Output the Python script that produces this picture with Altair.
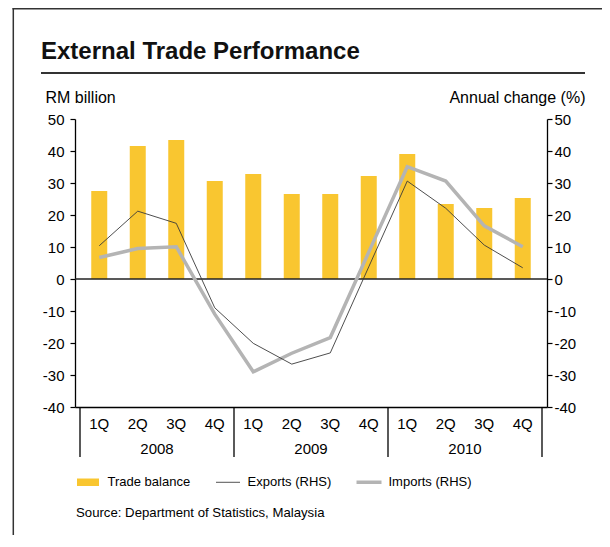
import altair as alt
import pandas as pd

TITLE = "External Trade Performance"
SOURCE = "Source: Department of Statistics, Malaysia"
LEFT_TITLE = "RM billion"
RIGHT_TITLE = "Annual change (%)"

YEARS = ["2008", "2009", "2010"]
QUARTERS = ["1Q", "2Q", "3Q", "4Q"]
SERIES = ["Trade balance", "Exports (RHS)", "Imports (RHS)"]

TRADE_BALANCE = [27.5, 41.6, 43.4, 30.6, 32.8, 26.6, 26.6, 32.2, 39.1, 23.4, 22.2, 25.3]
EXPORTS = [10.4, 21.2, 17.4, -9.0, -20.1, -26.6, -23.1, 3.8, 30.6, 22.1, 10.6, 3.5]
IMPORTS = [6.7, 9.5, 10.1, -11.0, -29.0, -23.2, -18.3, 8.4, 35.1, 30.6, 16.6, 10.1]

Y_TICKS = list(range(-40, 51, 10))

FONT = "Liberation Sans"
BAR_COLOR = "#F9C630"
EXP_COLOR = "#3a3a3a"
IMP_COLOR = "#b4b4b4"
W, H = 472, 288
TICK_FS = 15
CAT_FS = 15
AXT_FS = 16

n = len(TRADE_BALANCE)
df = pd.DataFrame({
    "idx": list(range(n)),
    "quarter": [QUARTERS[i % 4] for i in range(n)],
    "trade": TRADE_BALANCE,
    "exports": EXPORTS,
    "imports": IMPORTS,
})
sep_df = pd.DataFrame({"pos": [i * 4 - 0.5 for i in range(len(YEARS) + 1)]})
year_df = pd.DataFrame({"year": YEARS, "mid": [i * 4 + 1.5 for i in range(len(YEARS))]})

xscale = alt.Scale(domain=[-0.5, n - 0.5], nice=False, zero=False)
X_AXIS = alt.Axis(labels=False, ticks=False, grid=False, domain=True,
                  domainColor="black", domainWidth=1.3, title=None)
yscale = alt.Scale(domain=[-40, 50], nice=False, zero=False)
LABEL_EXPR = "'' + datum.value"
Y_LEFT = alt.Axis(values=Y_TICKS, grid=False, tickSize=5, tickColor="black", tickWidth=1.2,
                  domainColor="black", domainWidth=1.3, labelPadding=6, labelExpr=LABEL_EXPR,
                  labelFont=FONT, labelFontSize=TICK_FS, labelColor="black",
                  title=LEFT_TITLE, titleAngle=0, titleAlign="left", titleBaseline="middle",
                  titleX=-30, titleY=-22, titleFont=FONT, titleFontSize=AXT_FS,
                  titleFontWeight="normal", titleColor="black")
Y_RIGHT = alt.Axis(values=Y_TICKS, grid=False, orient="right", tickSize=5, tickColor="black",
                   tickWidth=1.2, domainColor="black", domainWidth=1.3, labelPadding=2,
                   labelExpr=LABEL_EXPR,
                   labelFont=FONT, labelFontSize=TICK_FS, labelColor="black",
                   title=RIGHT_TITLE, titleAngle=0, titleAlign="right", titleBaseline="middle",
                   titleX=38, titleY=-22, titleFont=FONT, titleFontSize=AXT_FS,
                   titleFontWeight="normal", titleColor="black")

base = alt.Chart(df)

bars = base.mark_bar(size=16, color=BAR_COLOR).encode(
    x=alt.X("idx:Q", scale=xscale, axis=X_AXIS),
    y=alt.Y("trade:Q", scale=yscale, axis=Y_LEFT),
)
zero = alt.Chart(pd.DataFrame({"z": [0]})).mark_rule(color="#222", strokeWidth=1.3).encode(
    y=alt.Y("z:Q", scale=yscale, axis=Y_LEFT),
)
left_group = alt.layer(bars, zero)

imp_line = base.mark_line(color=IMP_COLOR, strokeWidth=3.5).encode(
    x=alt.X("idx:Q", scale=xscale, axis=X_AXIS),
    y=alt.Y("imports:Q", scale=yscale, axis=Y_RIGHT),
)
exp_line = base.mark_line(color=EXP_COLOR, strokeWidth=0.9).encode(
    x=alt.X("idx:Q", scale=xscale, axis=X_AXIS),
    y=alt.Y("exports:Q", scale=yscale, axis=Y_RIGHT),
)
right_group = alt.layer(imp_line, exp_line)

quarter_text = base.mark_text(font=FONT, fontSize=CAT_FS, color="black", baseline="middle").encode(
    x=alt.X("idx:Q", scale=xscale, axis=X_AXIS),
    y=alt.value(H + 17),
    text="quarter:N",
)
year_text = alt.Chart(year_df).mark_text(font=FONT, fontSize=CAT_FS, color="black", baseline="middle").encode(
    x=alt.X("mid:Q", scale=xscale, axis=X_AXIS),
    y=alt.value(H + 42),
    text="year:N",
)
seps = alt.Chart(sep_df).mark_rule(color="black", strokeWidth=1.3).encode(
    x=alt.X("pos:Q", scale=xscale, axis=X_AXIS),
    y=alt.value(H),
    y2=alt.value(H + 50),
)

title_text = alt.Chart(pd.DataFrame({"t": [TITLE]})).mark_text(
    font=FONT, fontSize=24, fontWeight="bold", color="#111", align="left", baseline="alphabetic"
).encode(x=alt.value(-34), y=alt.value(-60), text="t:N")
underline = alt.Chart(pd.DataFrame({"a": [0]})).mark_rule(color="#333", strokeWidth=2).encode(
    x=alt.value(-34), x2=alt.value(510), y=alt.value(-46)
)
frame_left = alt.Chart(pd.DataFrame({"a": [0]})).mark_rule(color="#333", strokeWidth=1.5).encode(
    x=alt.value(-61.7), y=alt.value(-111), y2=alt.value(440)
)
frame_top = alt.Chart(pd.DataFrame({"a": [0]})).mark_rule(color="#333", strokeWidth=1.5).encode(
    x=alt.value(-62.5), x2=alt.value(560), y=alt.value(-110.3)
)
source_text = alt.Chart(pd.DataFrame({"t": [SOURCE]})).mark_text(
    font=FONT, fontSize=13.2, color="black", align="left", baseline="middle"
).encode(x=alt.value(1), y=alt.value(393.5), text="t:N")

SHAPES = [
    "M-0.88,-0.3H0.88V0.3H-0.88Z",
    "M-0.96,-0.035H0.96V0.035H-0.96Z",
    "M-1,-0.14H1V0.14H-1Z",
]
leg = alt.Legend(orient="none", legendX=0.5, legendY=350.5, direction="horizontal", title=None,
                 symbolSize=625, symbolStrokeWidth=0, symbolOpacity=1,
                 labelFont=FONT, labelFontSize=13, labelColor="black", labelOffset=7,
                 columnPadding=25, columns=3, padding=0)
legend_layer = alt.Chart(pd.DataFrame({"series": SERIES})).mark_point(filled=True, opacity=1).encode(
    x=alt.value(-1000), y=alt.value(-1000),
    color=alt.Color("series:N", scale=alt.Scale(domain=SERIES, range=[BAR_COLOR, EXP_COLOR, IMP_COLOR]), legend=leg),
    shape=alt.Shape("series:N", scale=alt.Scale(domain=SERIES, range=SHAPES), legend=leg),
)

chart = alt.layer(
    left_group, right_group, quarter_text, year_text, seps,
    title_text, underline, frame_left, frame_top, source_text, legend_layer,
).resolve_scale(y="independent").properties(
    width=W, height=H,
    autosize=alt.AutoSizeParams(type="none"),
    padding={"left": 67, "top": 111, "right": 55, "bottom": 128},
    background="white",
).configure_view(stroke=None)

chart.save("out.html", embed_options={"renderer": "svg", "actions": False})
